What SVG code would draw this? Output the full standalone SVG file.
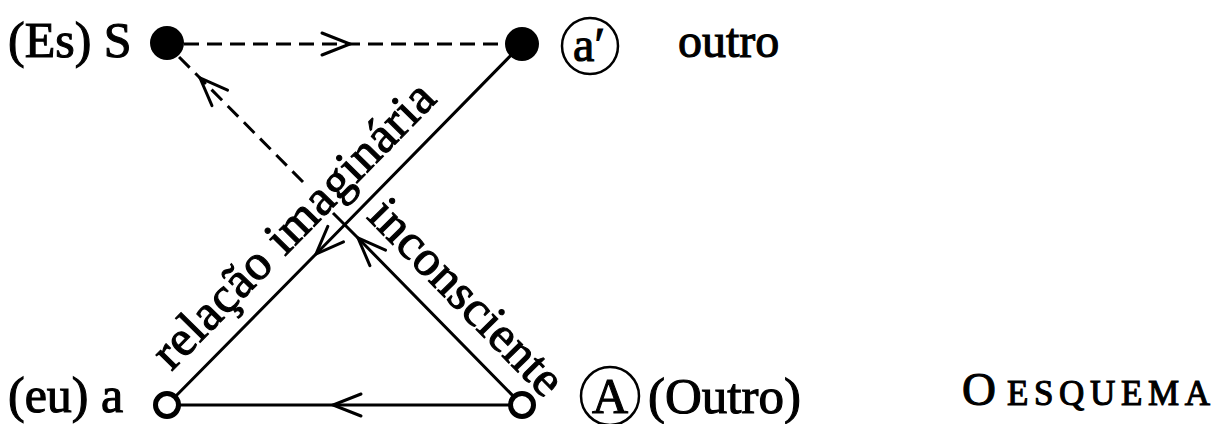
<svg xmlns="http://www.w3.org/2000/svg" width="1224" height="424" viewBox="0 0 1224 424">
<style>
.t{font-family:"Liberation Serif","Times New Roman",serif;fill:#000;stroke:#000;stroke-width:1.1}
.ln{fill:none;stroke:#000;stroke-width:3}
.dash{stroke-dasharray:15 8}
.ring{fill:none;stroke:#000;stroke-width:2.5}
.open{fill:#fff;stroke:#000;stroke-width:5}
</style>
<defs>
<marker id="v" markerUnits="userSpaceOnUse" viewBox="-35 -20 40 40" markerWidth="40" markerHeight="40" refX="0" refY="0" orient="auto">
<path d="M-28,-11 L0,0 L-28,11" fill="none" stroke="#000" stroke-width="3" stroke-dasharray="none" stroke-linecap="round" stroke-linejoin="miter"/>
</marker>
</defs>
<rect width="1224" height="424" fill="#fff"/>
<g id="connectors">
<path class="ln dash" d="M184,44 L350,44 L505,44" marker-mid="url(#v)"/>
<path class="ln" d="M522,44 L316,254 L167,405" marker-mid="url(#v)"/>
<path class="ln" d="M522,405 L358,238 L333,213" marker-mid="url(#v)"/>
<path class="ln dash" d="M303,182 L200,78 L179,57" marker-mid="url(#v)"/>
<path class="ln" d="M522,405 L333,405 L167,405" marker-mid="url(#v)"/>
</g>
<g id="node-S">
<circle cx="167" cy="43" r="17" fill="#000"/>
<text class="t" x="8" y="57" font-size="50">(Es) S</text>
</g>
<g id="node-a-prime">
<circle cx="522" cy="44" r="17" fill="#000"/>
<circle class="ring" cx="590" cy="46" r="28"/>
<text class="t" x="589" y="61" font-size="48" text-anchor="middle">a′</text>
<text class="t" x="678" y="57" font-size="48">outro</text>
</g>
<g id="node-a">
<circle class="open" cx="167" cy="405" r="11.5"/>
<text class="t" x="8" y="412" font-size="50">(eu) a</text>
</g>
<g id="node-A">
<circle class="open" cx="522" cy="405" r="11.5"/>
<circle class="ring" cx="610" cy="396" r="29"/>
<text class="t" x="610" y="413" font-size="50" text-anchor="middle">A</text>
<text class="t" x="648" y="413" font-size="51">(Outro)</text>
</g>
<g id="labels">
<text class="t" font-size="50" transform="translate(171.6,371.7) rotate(-45.48)" textLength="380" lengthAdjust="spacing">relação imaginária</text>
<text class="t" font-size="50" transform="translate(365.8,217.6) rotate(45.48)" textLength="255" lengthAdjust="spacing">inconsciente</text>
</g>
<g id="title">
<text class="t" x="962" y="405" font-size="47" stroke-width="1.4">O</text>
<text class="t" x="1007" y="405" font-size="35" stroke-width="1.2" textLength="203" lengthAdjust="spacing">ESQUEMA</text>
</g>
</svg>
